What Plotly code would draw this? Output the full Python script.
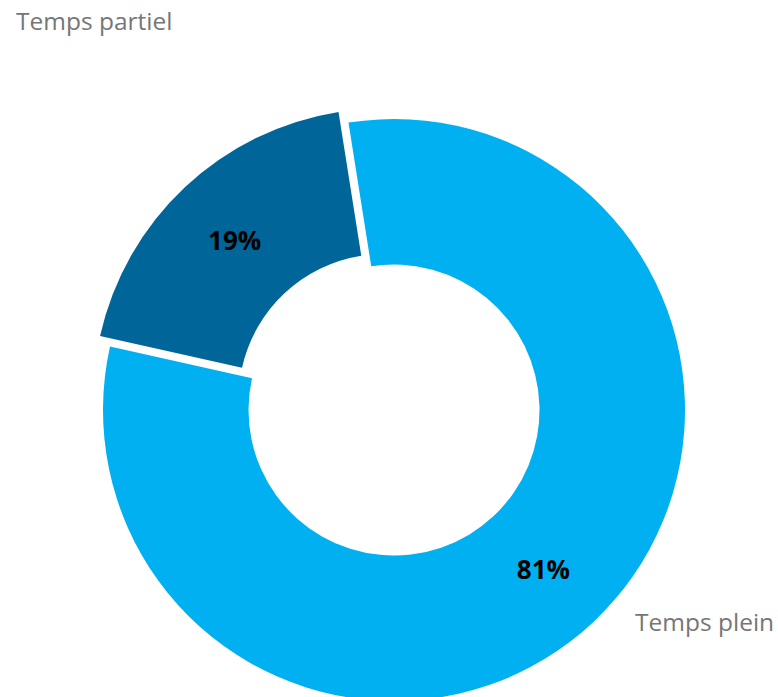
import plotly.graph_objects as go

categories = ["Temps plein", "Temps partiel"]
values = [81, 19]
colors = ["#00B0F0", "#006699"]
pulls = [0, 0.05]

W, H = 778, 716
cx, cy, r = 394, 410, 291
pmax = max(pulls)
half = r * (1 + pmax)

fig = go.Figure(go.Pie(
    labels=categories,
    values=values,
    sort=False,
    direction="clockwise",
    rotation=-9,
    hole=0.5,
    pull=pulls,
    marker=dict(colors=colors, line=dict(color="white", width=0)),
    texttemplate="<b>%{percent:.0%}</b>",
    textposition="inside",
    insidetextorientation="horizontal",
    textfont=dict(family="Open Sans", size=26, color="black"),
    showlegend=False,
    hoverinfo="label+percent",
    domain=dict(x=[(cx - half) / W, (cx + half) / W],
                y=[max(0, 1 - (cy + half) / H), min(1, 1 - (cy - half) / H)]),
))

annos = [
    dict(text=categories[1], x=14 / W, y=1 - 20 / H, xanchor="left"),
    dict(text=categories[0], x=776 / W, y=1 - 621 / H, xanchor="right"),
]
for a in annos:
    fig.add_annotation(xref="paper", yref="paper", yanchor="middle", showarrow=False,
                       font=dict(family="Open Sans", size=24.5, color="#767676"), **a)

fig.update_layout(width=W, height=H, margin=dict(l=0, r=0, t=0, b=0),
                  paper_bgcolor="white", plot_bgcolor="white")
fig.write_html(
    "out.html",
    config={"displayModeBar": False},
    post_script="document.body.style.margin='0';document.body.style.overflow='hidden';",
)
